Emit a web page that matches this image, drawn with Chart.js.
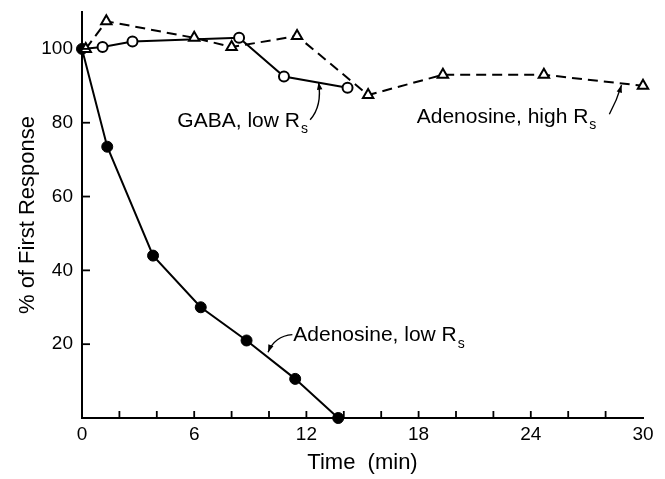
<!DOCTYPE html>
<html>
<head>
<meta charset="utf-8">
<script src="https://cdn.jsdelivr.net/npm/chart.js@4/dist/chart.umd.min.js"></script>
<style>
  html, body { margin: 0; padding: 0; background: #fff; }
  #wrap { width: 665px; height: 479px; }
</style>
</head>
<body>
<div id="wrap"><canvas id="chart"></canvas></div>
<script>
// values (time in min, % of first response)
const adenLowTime = [0, 1.35, 3.8, 6.35, 8.8, 11.4, 13.7]
const adenLowPct = [100, 73.5, 44, 30, 21, 10.6, 0]

const gabaTime = [0, 1.1, 2.7, 8.4, 10.8, 14.2]
const gabaPct = [100, 100.5, 102, 103, 92.5, 89.5]

const adenHighTime = [0.2, 1.3, 6.0, 8.0, 11.5, 15.3, 19.3, 24.7, 30]
const adenHighPct = [100, 107.5, 103, 100.5, 103.5, 87.5, 93, 93, 90]

const xTicks = [0, 6, 12, 18, 24, 30]
const xMinorTicks = [2, 4, 6, 8, 10, 12, 14, 16, 18, 20, 22, 24, 26, 28]
const yTicks = [20, 40, 60, 80, 100]

const FONT = '"Liberation Sans", Arial, sans-serif'

const toPoints = (xs, ys) => xs.map((x, i) => ({ x, y: ys[i] }))

// labels: text, left edge / middle in data units, arrow (tail -> control -> tip) in data units
const notes = [
  { text: 'GABA, low R', sub: 's', x: 5.1, y: 80.3,
    arrow: [[12.2, 80.8], [12.85, 84.5], [12.65, 91]] },
  { text: 'Adenosine, high R', sub: 's', x: 17.9, y: 81.5,
    arrow: [[28.2, 82.3], [28.6, 86], [28.85, 90.2]] },
  { text: 'Adenosine, low R', sub: 's', x: 11.3, y: 22.3,
    arrow: [[11.25, 22.6], [10.3, 22.2], [9.95, 17.8]] }
]

const decorPlugin = {
  id: 'decor',
  afterDraw(chart) {
    const ctx = chart.ctx
    const xs = chart.scales.x
    const ys = chart.scales.y
    const x0 = xs.getPixelForValue(0)
    const y0 = ys.getPixelForValue(0)
    ctx.save()
    ctx.strokeStyle = '#000'
    ctx.lineWidth = 1.8
    // inward tick marks
    xMinorTicks.forEach(v => {
      const px = xs.getPixelForValue(v)
      ctx.beginPath()
      ctx.moveTo(px, y0)
      ctx.lineTo(px, y0 - 7)
      ctx.stroke()
    })
    yTicks.forEach(v => {
      const py = ys.getPixelForValue(v)
      ctx.beginPath()
      ctx.moveTo(x0, py)
      ctx.lineTo(x0 + 8, py)
      ctx.stroke()
    })
    // annotations
    ctx.fillStyle = '#000'
    ctx.textBaseline = 'middle'
    notes.forEach(n => {
      const px = xs.getPixelForValue(n.x)
      const py = ys.getPixelForValue(n.y)
      ctx.font = '21px ' + FONT
      ctx.textAlign = 'left'
      ctx.fillText(n.text, px, py)
      const w = ctx.measureText(n.text).width
      ctx.font = '14px ' + FONT
      ctx.fillText(n.sub, px + w + 1, py + 8)

      const p = n.arrow.map(a => [xs.getPixelForValue(a[0]), ys.getPixelForValue(a[1])])
      ctx.lineWidth = 1.4
      ctx.beginPath()
      ctx.moveTo(p[0][0], p[0][1])
      ctx.quadraticCurveTo(p[1][0], p[1][1], p[2][0], p[2][1])
      ctx.stroke()
      // arrow head
      const ang = Math.atan2(p[2][1] - p[1][1], p[2][0] - p[1][0])
      const L = 8, W = 0.35
      ctx.beginPath()
      ctx.moveTo(p[2][0], p[2][1])
      ctx.lineTo(p[2][0] - L * Math.cos(ang - W), p[2][1] - L * Math.sin(ang - W))
      ctx.lineTo(p[2][0] - L * Math.cos(ang + W), p[2][1] - L * Math.sin(ang + W))
      ctx.closePath()
      ctx.fill()
    })
    ctx.restore()
  }
}

new Chart(document.getElementById('chart'), {
  type: 'scatter',
  data: {
    datasets: [
      {
        label: 'Adenosine, high Rs',
        data: toPoints(adenHighTime, adenHighPct),
        showLine: true,
        clip: false,
        borderColor: '#000',
        borderWidth: 2,
        borderDash: [10, 6],
        pointStyle: 'triangle',
        pointRadius: 6,
        pointBorderWidth: 2,
        pointBackgroundColor: '#fff',
        pointBorderColor: '#000'
      },
      {
        label: 'GABA, low Rs',
        data: toPoints(gabaTime, gabaPct),
        showLine: true,
        clip: false,
        borderColor: '#000',
        borderWidth: 2,
        pointStyle: 'circle',
        pointRadius: [0, 5, 5, 5, 5, 5],
        pointBorderWidth: 2,
        pointBackgroundColor: '#fff',
        pointBorderColor: '#000'
      },
      {
        label: 'Adenosine, low Rs',
        data: toPoints(adenLowTime, adenLowPct),
        showLine: true,
        clip: false,
        borderColor: '#000',
        borderWidth: 2,
        pointStyle: 'circle',
        pointRadius: 5.5,
        pointBorderWidth: 1,
        pointBackgroundColor: '#000',
        pointBorderColor: '#000'
      }
    ]
  },
  options: {
    responsive: true,
    maintainAspectRatio: false,
    animation: false,
    layout: { padding: { top: 12, right: 22, left: 0, bottom: 0 } },
    scales: {
      x: {
        type: 'linear',
        min: 0,
        max: 30,
        afterBuildTicks: scale => { scale.ticks = xTicks.map(v => ({ value: v })) },
        afterFit: scale => { scale.height = 61 },
        grid: { display: false, drawTicks: false },
        border: { display: true, color: '#000', width: 2 },
        ticks: {
          color: '#000',
          padding: 5,
          maxRotation: 0,
          font: { family: FONT, size: 19 }
        },
        title: {
          display: true,
          text: 'Time  (min)',
          color: '#000',
          padding: { top: 0, bottom: 3 },
          font: { family: FONT, size: 22 }
        }
      },
      y: {
        type: 'linear',
        min: 0,
        max: 110,
        afterBuildTicks: scale => { scale.ticks = yTicks.map(v => ({ value: v })) },
        afterFit: scale => {
          scale.width = 82
          scale.paddingTop = 0
          scale.paddingBottom = 0
        },
        grid: { display: false, drawTicks: false },
        border: { display: true, color: '#000', width: 2 },
        ticks: {
          color: '#000',
          padding: 9,
          font: { family: FONT, size: 19 }
        },
        title: {
          display: true,
          text: '% of First Response',
          color: '#000',
          padding: { top: 15, bottom: 0 },
          font: { family: FONT, size: 22 }
        }
      }
    },
    plugins: {
      legend: { display: false },
      tooltip: { enabled: false }
    }
  },
  plugins: [decorPlugin]
})
</script>
</body>
</html>
